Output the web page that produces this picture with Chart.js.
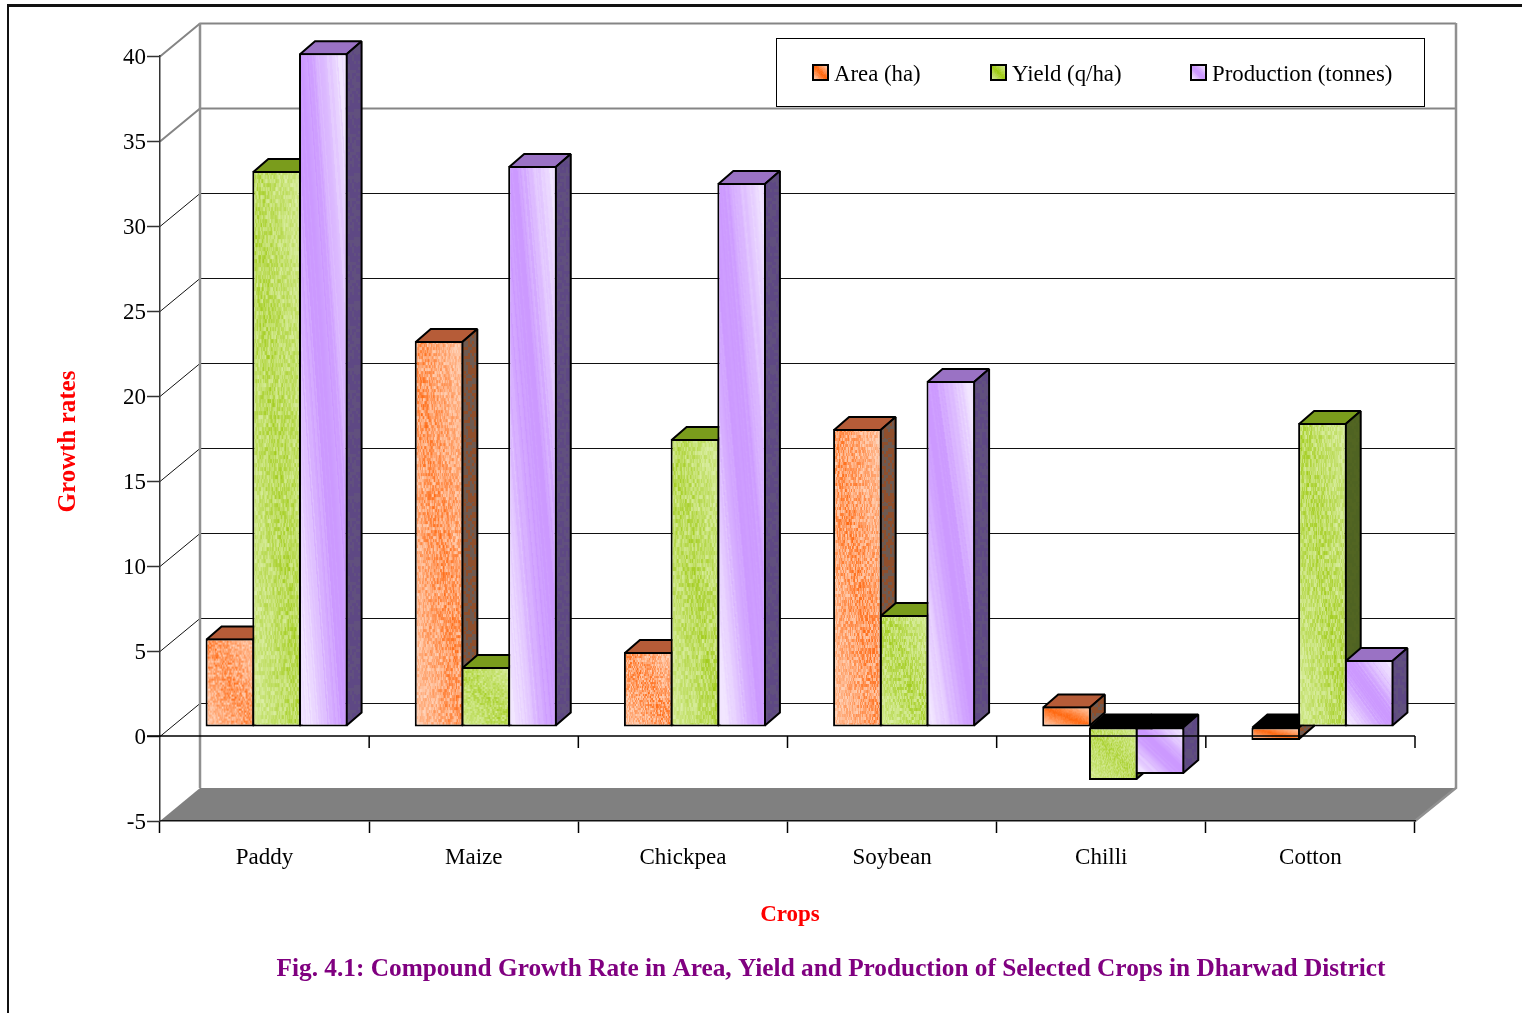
<!DOCTYPE html>
<html>
<head>
<meta charset="utf-8">
<title>Compound Growth Rate</title>
<script src="https://cdn.jsdelivr.net/npm/chart.js@4"></script>
<style>
    html, body { margin: 0; padding: 0; background: #fff; overflow: hidden; }
    #page { position: relative; width: 1522px; height: 1013px; }
    #frame { position: absolute; left: 7px; top: 4px; right: 0; bottom: 0; border-top: 3px solid #111; border-left: 2px solid #111; }
    #chart { position: absolute; left: 0; top: 0; }
</style>
</head>
<body>
<div id="page">
    <div id="frame"></div>
    <canvas id="chart" width="1522" height="1013"></canvas>
</div>
<script>
// --- DATA ---
const crops = ['Paddy', 'Maize', 'Chickpea', 'Soybean', 'Chilli', 'Cotton'];
const areaValues = [5.2, 22.7, 4.41, 17.53, 1.2, -0.76];
const yieldValues = [32.7, 3.53, 16.94, 6.59, -3.12, 17.88];
const productionValues = [39.63, 33.0, 32.0, 20.35, -2.76, 3.94];
const seriesNames = ['Area (ha)', 'Yield (q/ha)', 'Production (tonnes)'];

const xTitle = 'Crops';
const yTitle = 'Growth rates';
const caption = 'Fig. 4.1: Compound Growth Rate in Area, Yield and Production of Selected Crops in Dharwad District';

// --- STYLE ---
const SERIF = '"Liberation Serif", "Times New Roman", serif';
const WALL = { x: 40, y: 33 };     // how far the back wall sits behind the axes
const PLANE = { x: 12, y: 9 };     // the plane the columns stand on
const DEPTH = { x: 15, y: 13 };    // column depth

const faces = [
    { pale: [255, 214, 190], main: [255, 104, 16], cellW: 1, cellH: 3, grain: 0.95, top: '#b65c38', side: ['#6f5a50', '#8f4f2c'] },
    { pale: [222, 240, 172], main: [158, 202, 18], cellW: 1, cellH: 4, grain: 0.85, top: '#7a9c1c', side: ['#4f6322', '#526522'] },
    { pale: [242, 230, 255], main: [204, 153, 255], cellW: 0, cellH: 0, grain: 0, top: '#9a72c4', side: ['#5e4884', '#61507e'] }
];

function makeGrain(seed) {
    let s = (seed * 2654435761) >>> 0;
    return () => {
        s = (s * 1664525 + 1013904223) >>> 0;
        return s / 4294967296;
    };
}

function clamp01(v) { return Math.max(0, Math.min(1, v)); }

/**
 * Paints the mottled front face of one column: a pale/strong/pale diagonal
 * band, with grain on orange and green and soft streaks on purple.
 */
function paintFace(style, w, h, seed) {
    const canvas = document.createElement('canvas');
    canvas.width = w;
    canvas.height = h;
    const c = canvas.getContext('2d');
    const img = c.createImageData(w, h);
    const grain = makeGrain(seed + 7);
    for (let i = 0; i < 40; i++) grain();

    const cellW = style.cellW || 1;
    const cellH = Math.max(1, Math.min(style.cellH, Math.round(h / 40)));
    const cols = Math.ceil(w / cellW) + 1;
    const rows = Math.ceil(h / cellH) + 1;
    const cells = [];
    for (let i = 0; i < cols * rows; i++) cells.push(grain());
    const streaks = [];
    for (let i = 0; i < 80; i++) streaks.push(grain());

    const amount = Math.min(1, h / 70) * style.grain;
    for (let y = 0; y < h; y++) {
        for (let x = 0; x < w; x++) {
            const t = ((x / w) + 1 - (y / h)) / 2;
            const band = 1 - Math.abs(2 * t - 1);
            let m;
            if (style.grain) {
                const n = cells[Math.floor(y / cellH) * cols + Math.floor(x / cellW)] - 0.5;
                const flat = amount > 0.5 ? 0.15 + 0.4 * band : band;
                m = flat + n * amount * (0.35 + 0.65 * band);
            } else {
                const n = streaks[Math.floor(t * 79.99)] - 0.5;
                m = clamp01(band * 1.35 - 0.2) + n * 0.22;
            }
            m = clamp01(m);
            const o = (y * w + x) * 4;
            for (let k = 0; k < 3; k++) img.data[o + k] = style.pale[k] + (style.main[k] - style.pale[k]) * m;
            img.data[o + 3] = 255;
        }
    }
    c.putImageData(img, 0, 0);
    return canvas;
}

// Small speckled tile for the side walls of the columns
function paintSideTile(style, seed) {
    const canvas = document.createElement('canvas');
    canvas.width = 32;
    canvas.height = 64;
    const c = canvas.getContext('2d');
    const grain = makeGrain(seed + 101);
    c.fillStyle = style.side[0];
    c.fillRect(0, 0, 32, 64);
    c.fillStyle = style.side[1];
    for (let y = 0; y < 64; y += 3) {
        for (let x = 0; x < 32; x += 2) {
            if (grain() > 0.5) c.fillRect(x, y, 2, 3);
        }
    }
    return canvas;
}

// --- PLUGINS ---

// Back wall, left wall, floor and their grid lines, drawn from the y scale
const wallsPlugin = {
    id: 'walls',
    beforeDraw(chart) {
        const { ctx, chartArea: area, scales: { y } } = chart;
        const wallL = area.left + WALL.x;
        const wallR = area.right + WALL.x + 1;

        ctx.save();
        ctx.fillStyle = '#808080';
        ctx.beginPath();
        ctx.moveTo(area.left, area.bottom);
        ctx.lineTo(wallL, area.bottom - WALL.y);
        ctx.lineTo(wallR, area.bottom - WALL.y);
        ctx.lineTo(area.right, area.bottom);
        ctx.closePath();
        ctx.fill();

        y.ticks.forEach(tick => {
            if (tick.value === -5) return;
            const py = Math.round(y.getPixelForValue(tick.value)) + 0.5;
            const backY = py - WALL.y;
            const heavy = tick.value >= 35;
            ctx.strokeStyle = heavy ? '#858585' : '#111';
            ctx.lineWidth = heavy ? 2 : 1;
            ctx.beginPath();
            ctx.moveTo(area.left, py);
            ctx.lineTo(wallL, backY);
            ctx.lineTo(wallR, backY);
            ctx.stroke();
        });

        // Wall edges
        ctx.strokeStyle = '#909090';
        ctx.lineWidth = 2.5;
        ctx.beginPath();
        ctx.moveTo(wallL, area.top - WALL.y);
        ctx.lineTo(wallL, area.bottom - WALL.y);
        ctx.moveTo(wallR, area.top - WALL.y);
        ctx.lineTo(wallR, area.bottom - WALL.y);
        ctx.lineTo(area.right, area.bottom);
        ctx.stroke();
        ctx.restore();
    }
};

// Top and side faces of every column; the fronts are the library's own bars
const columnsPlugin = {
    id: 'columns',
    beforeDatasetsDraw(chart) {
        const ctx = chart.ctx;
        ctx.save();
        ctx.translate(PLANE.x, -PLANE.y);
        ctx.lineWidth = 2;
        ctx.lineJoin = 'miter';
        ctx.miterLimit = 2;
        ctx.strokeStyle = '#000';

        const drawPoly = (points, fill) => {
            ctx.beginPath();
            points.forEach((p, i) => (i ? ctx.lineTo(p[0], p[1]) : ctx.moveTo(p[0], p[1])));
            ctx.closePath();
            ctx.fillStyle = fill;
            ctx.fill();
            ctx.stroke();
        };

        chart.data.datasets.forEach((dataset, d) => {
            chart.getDatasetMeta(d).data.forEach((bar, i) => {
                const negative = dataset.data[i] < 0;
                const left = bar.x - bar.width / 2 + 1;
                const right = bar.x + bar.width / 2 - 1;
                const top = Math.min(bar.y, bar.base) + (negative ? 0 : 1);
                const bottom = Math.max(bar.y, bar.base) - 1;
                const dx = DEPTH.x;
                const dy = DEPTH.y;

                drawPoly([[left, top], [left + dx, top - dy], [right + dx, top - dy], [right, top]],
                    negative ? '#000' : faces[d].top);
                drawPoly([[right, top], [right + dx, top - dy], [right + dx, bottom - dy], [right, bottom]],
                    sidePatterns[d] || faces[d].side[0]);
            });
        });
    },
    afterDatasetsDraw(chart) {
        chart.ctx.restore();
    }
};

// The zero line with its tick marks sits in front of the columns
const zeroLinePlugin = {
    id: 'zeroLine',
    afterDatasetsDraw(chart) {
        const { ctx, chartArea: area, scales: { y } } = chart;
        const zero = y.getPixelForValue(0);
        ctx.save();
        ctx.strokeStyle = '#000';
        ctx.lineWidth = 1.5;
        ctx.beginPath();
        ctx.moveTo(area.left - 13, zero);
        ctx.lineTo(area.right, zero);
        for (let i = 1; i <= crops.length; i++) {
            const px = area.left + (area.right - area.left) * i / crops.length;
            ctx.moveTo(px, zero);
            ctx.lineTo(px, zero + 12);
        }
        ctx.stroke();
        ctx.restore();
    }
};

// Legend box, axis titles and the figure caption
const textPlugin = {
    id: 'texts',
    afterDraw(chart) {
        const ctx = chart.ctx;
        ctx.save();

        ctx.fillStyle = '#fff';
        ctx.fillRect(776, 38, 648, 68);
        ctx.strokeStyle = '#000';
        ctx.lineWidth = 1;
        ctx.strokeRect(776.5, 38.5, 648, 68);

        const swatchX = [813, 991, 1191];
        ctx.font = '22.8px ' + SERIF;
        ctx.textAlign = 'left';
        ctx.textBaseline = 'middle';
        seriesNames.forEach((name, d) => {
            ctx.drawImage(paintFace(faces[d], 15, 15, d + 1), swatchX[d], 65);
            ctx.lineWidth = 2;
            ctx.strokeRect(swatchX[d], 65, 15, 15);
            ctx.fillStyle = '#000';
            ctx.fillText(name, swatchX[d] + 21, 75);
        });

        ctx.fillStyle = '#ff0000';
        ctx.textAlign = 'center';
        ctx.font = 'bold 25px ' + SERIF;
        ctx.save();
        ctx.translate(69, 441.5);
        ctx.rotate(-Math.PI / 2);
        ctx.fillText(yTitle, 0, 0);
        ctx.restore();
        ctx.font = 'bold 23px ' + SERIF;
        ctx.fillText(xTitle, 790, 915);

        ctx.fillStyle = '#800080';
        ctx.font = 'bold 25.3px ' + SERIF;
        ctx.fillText(caption, 831, 969);
        ctx.restore();
    }
};

// --- CHART ---
const sidePatterns = [];
const canvasCtx = document.getElementById('chart').getContext('2d');
const tickFont = { family: SERIF, size: 23 };

function makeDataset(label, data, color) {
    return {
        label, data,
        backgroundColor: color,
        borderColor: '#000',
        borderWidth: 2,
        borderSkipped: false,
        inflateAmount: 0,
        barPercentage: 1.04,
        categoryPercentage: 0.67,
        clip: false
    };
}

const chart = new Chart(canvasCtx, {
    type: 'bar',
    data: {
        labels: crops,
        datasets: [
            makeDataset(seriesNames[0], areaValues, '#ff9966'),
            makeDataset(seriesNames[1], yieldValues, '#b5d955'),
            makeDataset(seriesNames[2], productionValues, '#cc99ff')
        ]
    },
    options: {
        responsive: false,
        animation: false,
        layout: { padding: { top: 56, right: 107, bottom: 0, left: 0 } },
        plugins: { legend: { display: false }, title: { display: false }, tooltip: { enabled: false } },
        scales: {
            x: {
                afterFit: scale => { scale.height = 192; },
                grid: { drawOnChartArea: false, tickLength: 12, tickColor: '#000', tickWidth: 1.5 },
                border: { color: '#111', width: 1.5 },
                ticks: { color: '#000', font: tickFont, padding: 11, maxRotation: 0, autoSkip: false }
            },
            y: {
                min: -5,
                max: 40,
                afterFit: scale => { scale.width = 160; },
                grid: { drawOnChartArea: false, tickLength: 13, tickColor: '#333', tickWidth: 1.5 },
                border: { color: '#333', width: 1.5 },
                ticks: { color: '#000', font: tickFont, padding: 1, stepSize: 5, labelOffset: 1.5 }
            }
        }
    },
    plugins: [wallsPlugin, columnsPlugin, zeroLinePlugin, textPlugin]
});

// Fronts and sides get their textures once the bars have their sizes
chart.data.datasets.forEach((dataset, d) => {
    sidePatterns[d] = canvasCtx.createPattern(paintSideTile(faces[d], d), 'repeat');
    dataset.backgroundColor = chart.getDatasetMeta(d).data.map((bar, i) => {
        const left = bar.x - bar.width / 2;
        const top = Math.min(bar.y, bar.base);
        const w = Math.ceil(bar.width);
        const h = Math.max(1, Math.ceil(Math.abs(bar.base - bar.y)));
        const pattern = canvasCtx.createPattern(paintFace(faces[d], w, h, d * 10 + i + 1), 'repeat');
        pattern.setTransform(new DOMMatrix([1, 0, 0, 1, left, top]));
        return pattern;
    });
});
chart.update('none');
</script>
</body>
</html>
